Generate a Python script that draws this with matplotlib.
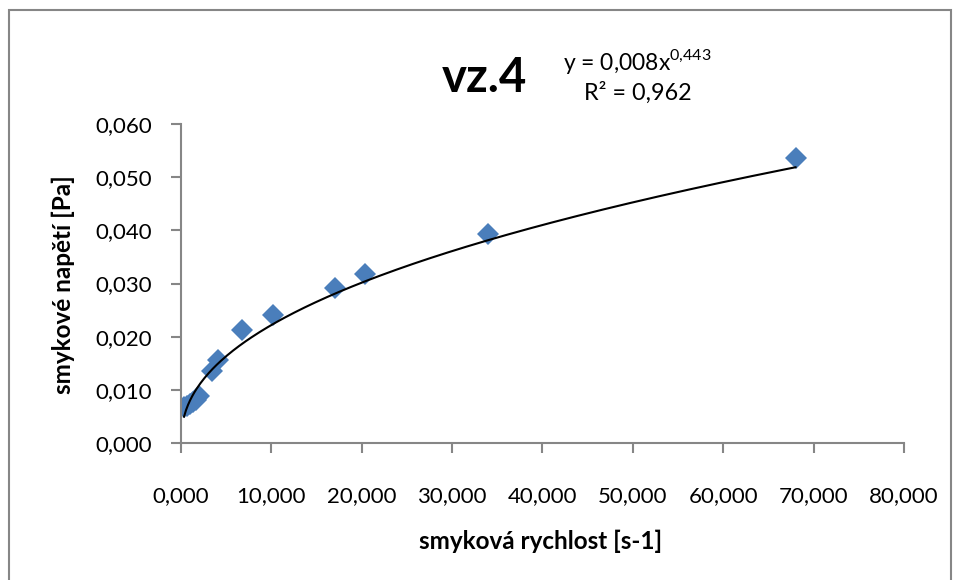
import numpy as np
import matplotlib
matplotlib.use('Agg')
import matplotlib.pyplot as plt
from matplotlib.patches import Rectangle
from matplotlib.ticker import FuncFormatter, MultipleLocator

plt.rcParams['font.family'] = ['Lato', 'DejaVu Sans']
plt.rcParams['mathtext.fontset'] = 'custom'
plt.rcParams['mathtext.rm'] = 'Lato'

# data
shear_rate = [0.34, 0.68, 1.02, 1.36, 1.7, 2.04, 3.4, 4.08, 6.8, 10.2, 17.0, 20.4, 34.0, 68.0]
shear_stress = [0.0068, 0.0070, 0.0073, 0.0077, 0.0081, 0.0089, 0.0135, 0.0156,
                0.0213, 0.0240, 0.0291, 0.0318, 0.0394, 0.0536]

# power trendline shown on chart
coef_a = 0.008
coef_b = 0.443
title = 'vz.4'
eq_text = r'y = 0,008x$^{0{,}443}$'
r2_text = 'R² = 0,962'
xlabel = 'smyková rychlost [s-1]'
ylabel = 'smykové napětí [Pa]'

grey = '#868686'
blue = '#4A7EBB'

fig = plt.figure(figsize=(9.57, 5.8), dpi=100)
ax = fig.add_axes([0.1891, 0.2362, 0.7555, 0.55])

ax.plot(shear_rate, shear_stress, linestyle='none', marker='D', markersize=11.5,
        color=blue, markeredgewidth=0, zorder=2)

xs = np.linspace(min(shear_rate), max(shear_rate), 300)
ax.plot(xs, coef_a * xs ** coef_b, color='black', lw=1.5, zorder=3)

ax.set_xlim(0, 80)
ax.set_ylim(0, 0.06)
ax.xaxis.set_major_locator(MultipleLocator(10))
ax.yaxis.set_major_locator(MultipleLocator(0.01))
ax.xaxis.set_major_formatter(FuncFormatter(lambda v, p: f'{v:.3f}'.replace('.', ',')))
ax.yaxis.set_major_formatter(FuncFormatter(lambda v, p: f'{v:.3f}'.replace('.', ',')))

for s in ['top', 'right']:
    ax.spines[s].set_visible(False)
for s in ['left', 'bottom']:
    ax.spines[s].set_color(grey)
    ax.spines[s].set_linewidth(1.5)
ax.tick_params(axis='both', direction='out', length=7, width=1.5, color=grey,
               labelsize=16, labelcolor='black')
ax.tick_params(axis='x', pad=24)
ax.tick_params(axis='y', pad=14)

fig.text(63 / 957, 1 - 285 / 580, ylabel, rotation=90, ha='center', va='center',
         fontsize=17.5, fontweight='bold')
fig.text(541 / 957, 1 - 541 / 580, xlabel, ha='center', va='center',
         fontsize=17.5, fontweight='bold')

fig.text(484 / 957, 1 - 78 / 580, title, ha='center', va='center',
         fontsize=34, fontweight='bold')
fig.text(563 / 957, 1 - 62 / 580, eq_text, ha='left', va='center', fontsize=16.5)
fig.text(584 / 957, 1 - 93 / 580, r2_text, ha='left', va='center', fontsize=16.8)

fig.patches.append(Rectangle((9 / 957, -0.02), 942 / 957, 1.02 - 10 / 580,
                             transform=fig.transFigure, fill=False,
                             edgecolor=grey, lw=1.5))

fig.savefig('out.png', dpi=100)
